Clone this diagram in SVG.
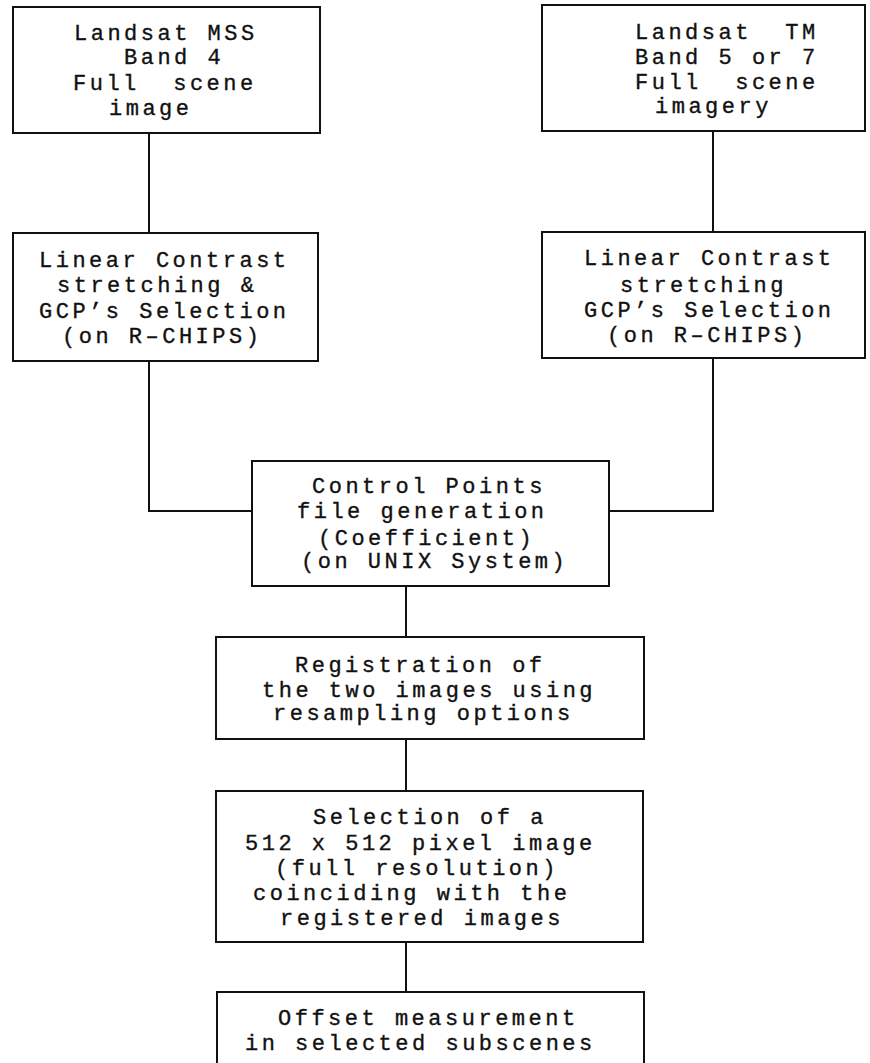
<svg xmlns="http://www.w3.org/2000/svg" width="870" height="1063" viewBox="0 0 870 1063">
<style>
.box{fill:#fff;stroke:#111;stroke-width:2}
.ln{fill:none;stroke:#111;stroke-width:2}
text{font-family:"Liberation Mono","Courier New",monospace;font-size:22px;letter-spacing:3.5px;fill:#111;stroke:#111;stroke-width:0.35}
</style>
<rect width="870" height="1063" fill="#fff"/>
<g id="connectors">
<path class="ln" d="M149 133V233"/>
<path class="ln" d="M713 131V232"/>
<path class="ln" d="M149 361V511H252"/>
<path class="ln" d="M713 358V511H609"/>
<path class="ln" d="M406 586V637"/>
<path class="ln" d="M406 739V791"/>
<path class="ln" d="M406 942V992"/>
</g>
<g id="mss">
<rect class="box" x="13" y="7" width="307" height="126"/>
<text xml:space="preserve"><tspan x="74" y="40">Landsat MSS</tspan><tspan x="124" y="64">Band 4</tspan><tspan x="73" y="90">Full  scene</tspan><tspan x="109" y="115">image</tspan></text>
</g>
<g id="tm">
<rect class="box" x="542" y="5" width="323" height="126"/>
<text xml:space="preserve"><tspan x="635" y="39">Landsat  TM</tspan><tspan x="635" y="64">Band 5 or 7</tspan><tspan x="635" y="89">Full  scene</tspan><tspan x="655" y="113">imagery</tspan></text>
</g>
<g id="lcs-left">
<rect class="box" x="13" y="233" width="305" height="128"/>
<text xml:space="preserve"><tspan x="39" y="267">Linear Contrast</tspan><tspan x="57" y="292">stretching &amp;</tspan><tspan x="39" y="318">GCP’s Selection</tspan><tspan x="62" y="343">(on R–CHIPS)</tspan></text>
</g>
<g id="lcs-right">
<rect class="box" x="542" y="232" width="323" height="126"/>
<text xml:space="preserve"><tspan x="584" y="265">Linear Contrast</tspan><tspan x="620" y="292">stretching</tspan><tspan x="584" y="317">GCP’s Selection</tspan><tspan x="607" y="342">(on R–CHIPS)</tspan></text>
</g>
<g id="control">
<rect class="box" x="252" y="461" width="357" height="125"/>
<text xml:space="preserve"><tspan x="312" y="493">Control Points</tspan><tspan x="297" y="518">file generation</tspan><tspan x="318" y="545">(Coefficient)</tspan><tspan x="301" y="568">(on UNIX System)</tspan></text>
</g>
<g id="registration">
<rect class="box" x="216" y="637" width="428" height="102"/>
<text xml:space="preserve"><tspan x="295" y="672">Registration of</tspan><tspan x="262" y="697">the two images using</tspan><tspan x="273" y="720">resampling options</tspan></text>
</g>
<g id="selection">
<rect class="box" x="216" y="791" width="427" height="151"/>
<text xml:space="preserve"><tspan x="313" y="824">Selection of a</tspan><tspan x="245" y="850">512 x 512 pixel image</tspan><tspan x="275" y="875">(full resolution)</tspan><tspan x="253" y="900">coinciding with the</tspan><tspan x="280" y="925">registered images</tspan></text>
</g>
<g id="offset">
<rect class="box" x="217" y="992" width="427" height="90"/>
<text xml:space="preserve"><tspan x="278" y="1025">Offset measurement</tspan><tspan x="245" y="1050">in selected subscenes</tspan></text>
</g>
</svg>
